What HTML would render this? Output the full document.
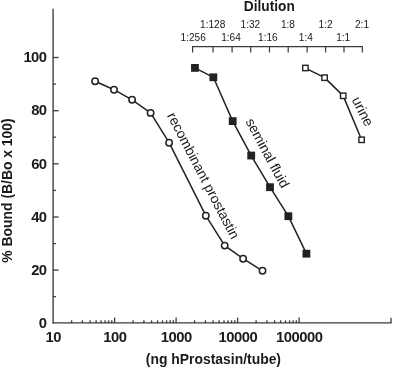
<!DOCTYPE html><html><head><meta charset="utf-8"><title>Dilution curve</title>
<style>html,body{margin:0;padding:0;background:#fff}svg{display:block}text{font-family:"Liberation Sans",Arial,Helvetica,sans-serif;fill:#1a1a1a}.b{font-weight:bold}</style></head><body>
<svg width="393" height="368" viewBox="0 0 393 368">
<rect width="393" height="368" fill="#fff"/>
<g stroke="#3a3a3a" stroke-width="1.35" fill="none" stroke-linecap="butt">
<path d="M53.1 8.7V323.55"/>
<path d="M52.5 322.9H391.6" stroke-width="1.2"/>
</g>
<g stroke="#3a3a3a" stroke-width="1.3" fill="none">
<path d="M53.1 296.7h2.8"/>
<path d="M53.1 270.1h5.5"/>
<path d="M53.1 243.6h2.8"/>
<path d="M53.1 217.0h5.5"/>
<path d="M53.1 190.4h2.8"/>
<path d="M53.1 163.8h5.5"/>
<path d="M53.1 137.2h2.8"/>
<path d="M53.1 110.7h5.5"/>
<path d="M53.1 84.1h2.8"/>
<path d="M53.1 57.5h5.5"/>
<path d="M71.6 323.0v-2.7"/>
<path d="M82.4 323.0v-2.7"/>
<path d="M90.1 323.0v-2.7"/>
<path d="M96.1 323.0v-2.7"/>
<path d="M101.0 323.0v-2.7"/>
<path d="M105.1 323.0v-2.7"/>
<path d="M108.6 323.0v-2.7"/>
<path d="M111.8 323.0v-2.7"/>
<path d="M114.6 323.0v-5.4"/>
<path d="M133.1 323.0v-2.7"/>
<path d="M143.9 323.0v-2.7"/>
<path d="M151.6 323.0v-2.7"/>
<path d="M157.6 323.0v-2.7"/>
<path d="M162.5 323.0v-2.7"/>
<path d="M166.6 323.0v-2.7"/>
<path d="M170.1 323.0v-2.7"/>
<path d="M173.3 323.0v-2.7"/>
<path d="M176.1 323.0v-5.4"/>
<path d="M194.6 323.0v-2.7"/>
<path d="M205.4 323.0v-2.7"/>
<path d="M213.1 323.0v-2.7"/>
<path d="M219.1 323.0v-2.7"/>
<path d="M224.0 323.0v-2.7"/>
<path d="M228.1 323.0v-2.7"/>
<path d="M231.6 323.0v-2.7"/>
<path d="M234.8 323.0v-2.7"/>
<path d="M237.6 323.0v-5.4"/>
<path d="M256.1 323.0v-2.7"/>
<path d="M266.9 323.0v-2.7"/>
<path d="M274.6 323.0v-2.7"/>
<path d="M280.6 323.0v-2.7"/>
<path d="M285.5 323.0v-2.7"/>
<path d="M289.6 323.0v-2.7"/>
<path d="M293.1 323.0v-2.7"/>
<path d="M296.3 323.0v-2.7"/>
<path d="M299.1 323.0v-5.4"/>
<path d="M391 323.0v-5.3"/>
</g>
<g stroke="#3a3a3a" stroke-width="1.2" fill="none">
<path d="M192.6 52.4V46.7H362.3V52.4"/>
<path d="M213.0 46.7v5.7"/>
<path d="M232.1 46.7v5.7"/>
<path d="M250.7 46.7v5.7"/>
<path d="M269.5 46.7v5.7"/>
<path d="M288.2 46.7v5.7"/>
<path d="M307.1 46.7v5.7"/>
<path d="M325.6 46.7v5.7"/>
<path d="M344.0 46.7v5.7"/>
</g>
<g font-size="10.1" text-anchor="middle">
<text x="193.2" y="40.8">1:256</text>
<text x="212.7" y="27.6">1:128</text>
<text x="231.0" y="40.8">1:64</text>
<text x="250.4" y="27.6">1:32</text>
<text x="267.9" y="40.8">1:16</text>
<text x="287.9" y="27.6">1:8</text>
<text x="305.8" y="40.8">1:4</text>
<text x="325.6" y="27.6">1:2</text>
<text x="343.2" y="40.8">1:1</text>
<text x="362.0" y="27.6">2:1</text>
</g>
<text class="b" transform="translate(269.3 11.1) scale(1 1.06)" font-size="13.7" text-anchor="middle">Dilution</text>
<g class="b" font-size="14.8" letter-spacing="-0.5" text-anchor="end">
<text x="46.6" y="328.10">0</text>
<text x="46.6" y="274.94">20</text>
<text x="46.6" y="221.78">40</text>
<text x="46.6" y="168.62">60</text>
<text x="46.6" y="115.46">80</text>
<text x="46.6" y="62.30">100</text>
</g>
<g class="b" font-size="14.8" letter-spacing="-0.5" text-anchor="middle">
<text x="53.3" y="341.6">10</text>
<text x="114.8" y="341.6">100</text>
<text x="176.3" y="341.6">1000</text>
<text x="237.8" y="341.6">10000</text>
<text x="299.3" y="341.6">100000</text>
</g>
<text class="b" font-size="13.92" text-anchor="middle" x="213.4" y="364">(ng hProstasin/tube)</text>
<text class="b" font-size="13.9" text-anchor="middle" transform="translate(11.6 190.5) rotate(-90)">% Bound (B/Bo x 100)</text>
<g stroke="#222" stroke-width="1.5" fill="none" stroke-linejoin="round">
<path d="M95.1 81.2L114.0 89.7L132.1 99.8L150.6 112.9L169.1 142.7L205.8 215.7L224.7 245.6L243.1 258.7L262.5 270.8"/>
<path d="M194.95 67.9L213.35 77.3L232.7 121.1L251.2 155.55L270.0 187.2L288.35 216.2L306.4 253.7"/>
<path d="M305.4 68.05L324.6 77.65L343.2 95.85L361.6 139.75"/>
</g>
<g stroke="#222" stroke-width="1.5" fill="#fff">
<circle cx="95.1" cy="81.2" r="3.2"/>
<circle cx="114.0" cy="89.7" r="3.2"/>
<circle cx="132.1" cy="99.8" r="3.2"/>
<circle cx="150.6" cy="112.9" r="3.2"/>
<circle cx="169.1" cy="142.7" r="3.2"/>
<circle cx="205.8" cy="215.7" r="3.2"/>
<circle cx="224.7" cy="245.6" r="3.2"/>
<circle cx="243.1" cy="258.7" r="3.2"/>
<circle cx="262.5" cy="270.8" r="3.2"/>
</g>
<g fill="#222">
<rect x="191.05" y="64.00" width="7.8" height="7.8"/>
<rect x="209.45" y="73.40" width="7.8" height="7.8"/>
<rect x="228.80" y="117.20" width="7.8" height="7.8"/>
<rect x="247.30" y="151.65" width="7.8" height="7.8"/>
<rect x="266.10" y="183.30" width="7.8" height="7.8"/>
<rect x="284.45" y="212.30" width="7.8" height="7.8"/>
<rect x="302.50" y="249.80" width="7.8" height="7.8"/>
</g>
<g stroke="#222" stroke-width="1.4" fill="#fff">
<rect x="302.7" y="65.3" width="5.4" height="5.4"/>
<rect x="321.9" y="75.0" width="5.4" height="5.4"/>
<rect x="340.5" y="93.1" width="5.4" height="5.4"/>
<rect x="358.9" y="137.1" width="5.4" height="5.4"/>
</g>
<g font-size="14">
<text font-size="13.88" transform="translate(166.8 115.6) rotate(62.5)">recombinant prostastin</text>
<text font-size="13.8" transform="translate(245.2 121.5) rotate(61.7)">seminal fluid</text>
<text transform="translate(351.4 99.8) rotate(63)">urine</text>
</g>
</svg></body></html>
